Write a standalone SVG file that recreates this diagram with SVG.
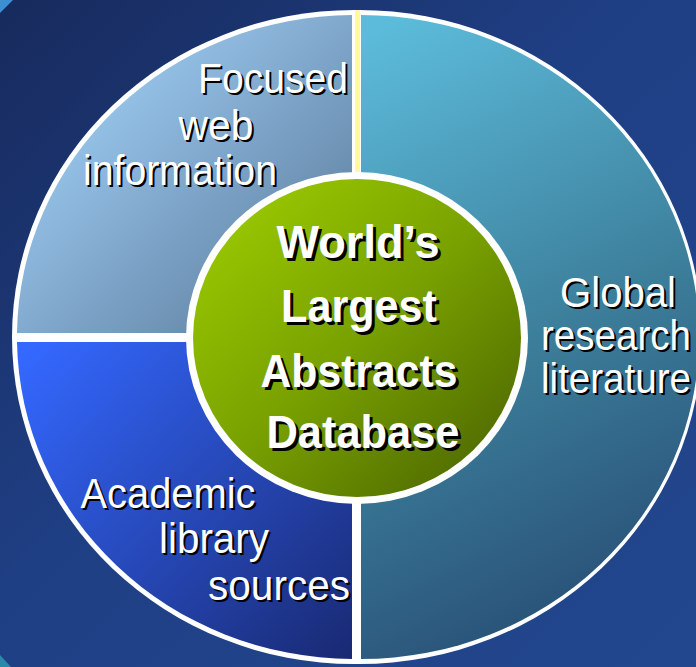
<svg xmlns="http://www.w3.org/2000/svg" width="696" height="667" viewBox="0 0 696 667">
  <defs>
    <linearGradient id="bg" x1="0" y1="0" x2="1" y2="1">
      <stop offset="0" stop-color="#172a5c"/>
      <stop offset="0.45" stop-color="#1f3f84"/>
      <stop offset="1" stop-color="#22478e"/>
    </linearGradient>
    <linearGradient id="gWeb" gradientUnits="userSpaceOnUse" x1="80" y1="60" x2="350" y2="330">
      <stop offset="0" stop-color="#9fcdf4"/>
      <stop offset="1" stop-color="#557594"/>
    </linearGradient>
    <linearGradient id="gLib" gradientUnits="userSpaceOnUse" x1="30" y1="345" x2="350" y2="655">
      <stop offset="0" stop-color="#3468ff"/>
      <stop offset="1" stop-color="#192a74"/>
    </linearGradient>
    <linearGradient id="gRes" gradientUnits="userSpaceOnUse" x1="380" y1="30" x2="690" y2="640">
      <stop offset="0" stop-color="#5cbbda"/>
      <stop offset="0.5" stop-color="#3c7f9b"/>
      <stop offset="1" stop-color="#24456e"/>
    </linearGradient>
    <linearGradient id="gCore" gradientUnits="userSpaceOnUse" x1="220" y1="190" x2="500" y2="490">
      <stop offset="0" stop-color="#9ccc00"/>
      <stop offset="0.5" stop-color="#78a000"/>
      <stop offset="1" stop-color="#4a6400"/>
    </linearGradient>
  </defs>
  <style>
    .lbl { font-family: "Liberation Sans Narrow", "Liberation Sans", Arial, sans-serif; font-size: 43px; fill: #ffffff; text-anchor: middle; }
    .core { font-family: "Liberation Sans Narrow", "Liberation Sans", Arial, sans-serif; font-size: 47px; font-weight: bold; fill: #ffffff; text-anchor: middle; }
    .shadow { fill: #000000; }
  </style>

  <!-- backdrop -->
  <rect x="0" y="0" width="696" height="667" fill="url(#bg)"/>
  <polygon points="0,0 13,0 0,13" fill="#3b8fd2"/>
  <polygon points="0,655 0,667 11,667" fill="#2a88a8"/>

  <!-- white outer rim -->
  <path d="M354,10 L359,10 A343,327 0 0 1 359,664 L354,664 A342,327 0 0 1 354,10 Z" fill="#ffffff"/>

  <g id="node-web">
    <path d="M352,333 L352,15 A337,322 0 0 0 17,333 Z" fill="url(#gWeb)"/>
    <text class="lbl shadow" x="275" y="95" textLength="150" lengthAdjust="spacingAndGlyphs">Focused</text>
    <text class="lbl" x="273" y="93" textLength="150" lengthAdjust="spacingAndGlyphs">Focused</text>
    <text class="lbl shadow" x="218" y="142" textLength="75" lengthAdjust="spacingAndGlyphs">web</text>
    <text class="lbl" x="216" y="140" textLength="75" lengthAdjust="spacingAndGlyphs">web</text>
    <text class="lbl shadow" x="182" y="187" textLength="194" lengthAdjust="spacingAndGlyphs">information</text>
    <text class="lbl" x="180" y="185" textLength="194" lengthAdjust="spacingAndGlyphs">information</text>
  </g>

  <g id="node-library">
    <path d="M352,342 L17,342 A337,322 0 0 0 352,659 Z" fill="url(#gLib)"/>
    <text class="lbl shadow" x="170" y="510" textLength="175" lengthAdjust="spacingAndGlyphs">Academic</text>
    <text class="lbl" x="168" y="508" textLength="175" lengthAdjust="spacingAndGlyphs">Academic</text>
    <text class="lbl shadow" x="216" y="555" textLength="110" lengthAdjust="spacingAndGlyphs">library</text>
    <text class="lbl" x="214" y="553" textLength="110" lengthAdjust="spacingAndGlyphs">library</text>
    <text class="lbl shadow" x="281" y="602" textLength="142" lengthAdjust="spacingAndGlyphs">sources</text>
    <text class="lbl" x="279" y="600" textLength="142" lengthAdjust="spacingAndGlyphs">sources</text>
  </g>

  <g id="node-research">
    <path d="M361,15 A338,322 0 0 1 361,659 Z" fill="url(#gRes)"/>
    <rect x="355" y="10" width="5" height="166" fill="#fffb9c"/>
    <text class="lbl shadow" x="620" y="309" textLength="116" lengthAdjust="spacingAndGlyphs">Global</text>
    <text class="lbl" x="618" y="307" textLength="116" lengthAdjust="spacingAndGlyphs">Global</text>
    <text class="lbl shadow" x="618" y="352" textLength="150" lengthAdjust="spacingAndGlyphs">research</text>
    <text class="lbl" x="616" y="350" textLength="150" lengthAdjust="spacingAndGlyphs">research</text>
    <text class="lbl shadow" x="618" y="395" textLength="150" lengthAdjust="spacingAndGlyphs">literature</text>
    <text class="lbl" x="616" y="393" textLength="150" lengthAdjust="spacingAndGlyphs">literature</text>
  </g>

  <g id="node-core">
    <ellipse cx="357" cy="338" rx="171" ry="166" fill="#ffffff"/>
    <ellipse cx="357" cy="338" rx="164" ry="159" fill="url(#gCore)"/>
    <text class="core shadow" x="361" y="261" textLength="163" lengthAdjust="spacingAndGlyphs">World’s</text>
    <text class="core" x="358" y="258" textLength="163" lengthAdjust="spacingAndGlyphs">World’s</text>
    <text class="core shadow" x="362" y="325" textLength="156" lengthAdjust="spacingAndGlyphs">Largest</text>
    <text class="core" x="359" y="322" textLength="156" lengthAdjust="spacingAndGlyphs">Largest</text>
    <text class="core shadow" x="362" y="390" textLength="197" lengthAdjust="spacingAndGlyphs">Abstracts</text>
    <text class="core" x="359" y="387" textLength="197" lengthAdjust="spacingAndGlyphs">Abstracts</text>
    <text class="core shadow" x="366" y="451" textLength="193" lengthAdjust="spacingAndGlyphs">Database</text>
    <text class="core" x="363" y="448" textLength="193" lengthAdjust="spacingAndGlyphs">Database</text>
  </g>
</svg>
